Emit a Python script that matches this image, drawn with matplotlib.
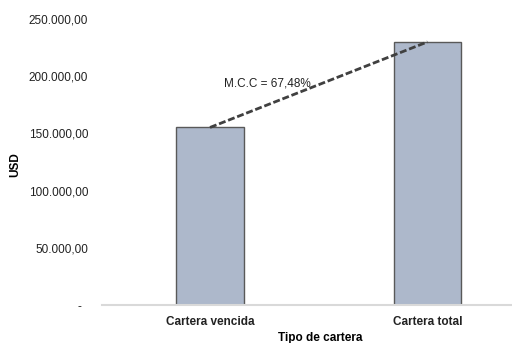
import matplotlib.pyplot as plt
from matplotlib.ticker import FuncFormatter

plt.rcParams['font.family'] = ['Liberation Sans', 'DejaVu Sans']

# Data
categories = ['Cartera vencida', 'Cartera total']
values = [155200, 230000]
ratio_label = 'M.C.C = 67,48%'
y_ticks = [0, 50000, 100000, 150000, 200000, 250000]


def fmt_usd(v, pos):
    if v == 0:
        return '-  '
    s = '{:,.2f}'.format(v)
    return s.replace(',', 'X').replace('.', ',').replace('X', '.')


fig = plt.figure(figsize=(5.12, 3.43), dpi=100)
ax = fig.add_axes([102 / 512, 38 / 343, 410 / 512, 286 / 343])

x = list(range(len(categories)))
ax.bar(x, values, width=0.31, color='#adb8cb', edgecolor='#595959', linewidth=1.0, zorder=2)

# dashed line joining the bar tops
ax.plot(x, values, linestyle=(0, (2.5, 1.0)), color='#404040', linewidth=2.0, zorder=3)
ax.text(0.262, 194000, ratio_label, ha='center', va='center', fontsize=8.5, color='#222222')

ax.set_xlim(-0.4966, 1.3885)
ax.set_ylim(0, 250000)
ax.set_yticks(y_ticks)
ax.yaxis.set_major_formatter(FuncFormatter(fmt_usd))
ax.set_xticks(x)
ax.set_xticklabels(categories, fontweight='bold', fontsize=8.5)

for s in ['top', 'right', 'left']:
    ax.spines[s].set_visible(False)
ax.spines['bottom'].set_color('#d9d9d9')
ax.spines['bottom'].set_linewidth(1.5)
ax.tick_params(axis='both', length=0, labelsize=8.5, colors='#222222')
ax.tick_params(axis='y', pad=10)
ax.tick_params(axis='x', pad=8)

fig.text(15 / 512, 1 - 165 / 343, 'USD', rotation=90, ha='center', va='center',
         fontsize=8.5, fontweight='bold')
fig.text(320 / 512, 1 - 338 / 343, 'Tipo de cartera', ha='center', va='center',
         fontsize=8.5, fontweight='bold')

fig.savefig('out.png', dpi=100)
